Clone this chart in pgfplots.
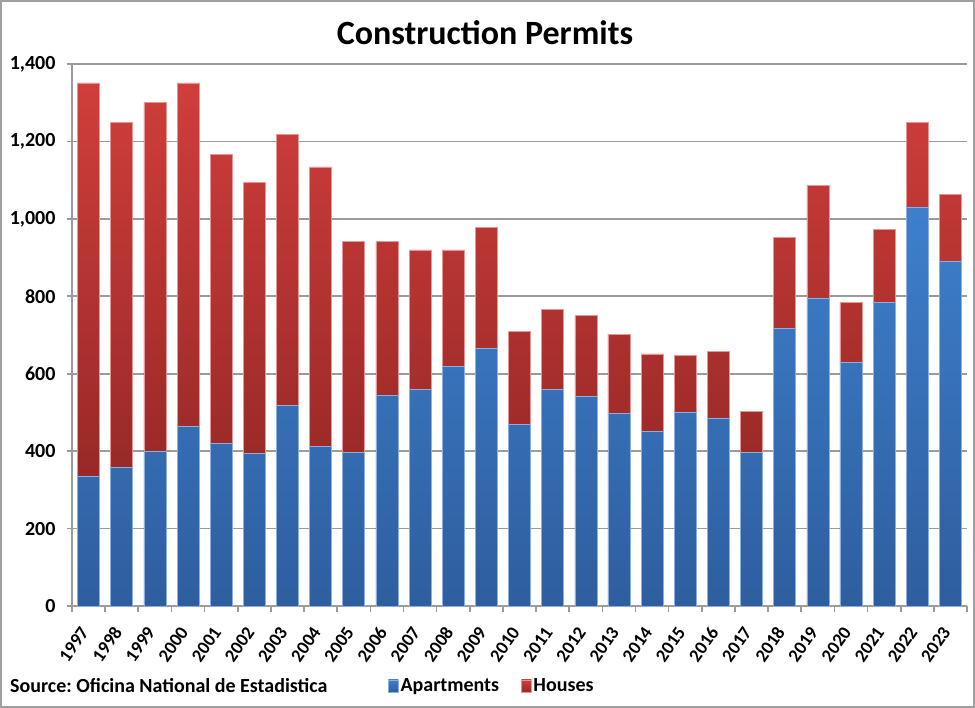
\documentclass[border=0pt]{standalone}
\usepackage{fontspec}
\setmainfont{Carlito}
\usepackage{pgfplots}
\pgfplotsset{compat=1.18}

\definecolor{apttop}{RGB}{62,127,205}
\definecolor{aptbot}{RGB}{46,94,158}
\definecolor{aptedge}{RGB}{140,175,225}
\definecolor{houtop}{RGB}{208,62,59}
\definecolor{houbot}{RGB}{152,41,38}
\definecolor{houedge}{RGB}{230,150,150}
\definecolor{gridgray}{RGB}{155,155,155}

\newcommand{\lbl}{\fontsize{20bp}{24bp}\selectfont\bfseries}
\frenchspacing

\begin{document}
\begin{tikzpicture}
\useasboundingbox (0,0) rectangle (975bp,708bp);
\draw[gray!75, line width=2bp] (1bp,1bp) rectangle (974bp,707bp);

\node[font=\fontsize{34bp}{40bp}\selectfont\bfseries] at (485bp,675bp) {Construction Permits};
\node[font=\lbl, anchor=west, inner sep=0pt] at (10bp,22bp) {Source: Oficina National de Estadistica};

\begin{axis}[
    at={(72bp,102bp)}, anchor=south west,
    width=895bp, height=542bp, scale only axis,
    ybar stacked, bar width=22bp,
    xmin=-0.5, xmax=26.5,
    ymin=0, ymax=1400,
    ytick={0,200,...,1400},
    xtick={0,...,26},
    xticklabels={1997,1998,1999,2000,2001,2002,2003,2004,2005,2006,2007,2008,2009,2010,2011,2012,2013,2014,2015,2016,2017,2018,2019,2020,2021,2022,2023},
    minor xtick={-0.5,0.5,...,26.5},
    xtick style={draw=none},
    minor x tick style={draw=gridgray, line width=1.6bp},
    ytick style={draw=gridgray, line width=1.6bp},
    major tick length=5bp, minor tick length=6bp,
    tick align=outside,
    axis x line*=bottom, axis y line*=left,
    axis line style={draw=gridgray, line width=1.6bp, -},
    ymajorgrids,
    grid style={draw=gridgray, line width=1.6bp},
    tick label style={font=\lbl},
    yticklabel style={xshift=-8bp},
    /pgf/number format/assume math mode=true,
    /pgf/number format/1000 sep={,},
    xticklabel style={font=\fontsize{18.5bp}{22bp}\selectfont\bfseries,
        xshift=-2bp, yshift=-15bp, rotate=55, anchor=east},
    legend style={at={(0.353,-0.1476)}, anchor=west, draw=none, fill=none,
        legend columns=2, font=\lbl, inner sep=0pt,
        /tikz/every even column/.append style={column sep=20bp}},
    legend image code/.code={\draw[#1, line width=0.4bp] (0bp,-6bp) rectangle (10bp,6bp);},
    legend cell align=left,
]
\addplot[top color=apttop, bottom color=aptbot, draw=aptedge, line width=0.6bp] coordinates {
(0,335) (1,357) (2,400) (3,463) (4,419) (5,394) (6,519) (7,412) (8,397)
(9,544) (10,559) (11,618) (12,666) (13,470) (14,559) (15,541) (16,497)
(17,452) (18,500) (19,486) (20,397) (21,717) (22,796) (23,630) (24,784)
(25,1031) (26,891)
};
\addlegendentry{Apartments}
\addplot[top color=houtop, bottom color=houbot, draw=houedge, line width=0.6bp] coordinates {
(0,1016) (1,892) (2,900) (3,888) (4,748) (5,700) (6,700) (7,722) (8,544)
(9,397) (10,361) (11,302) (12,312) (13,239) (14,207) (15,209) (16,205)
(17,199) (18,148) (19,172) (20,106) (21,235) (22,290) (23,154) (24,188)
(25,218) (26,173)
};
\addlegendentry{Houses}
\end{axis}
\end{tikzpicture}
\end{document}
